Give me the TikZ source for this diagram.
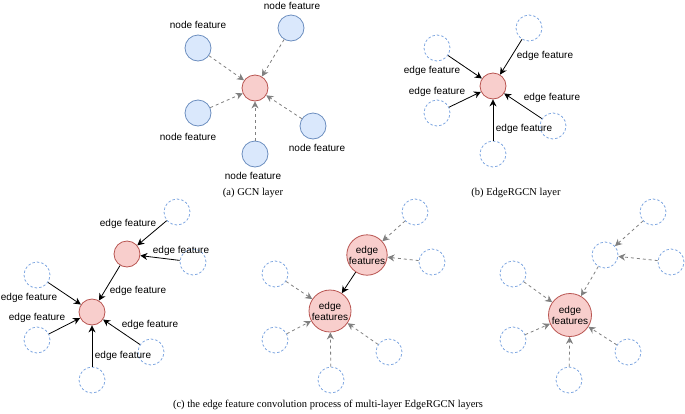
\documentclass[tikz,border=0pt]{standalone}
\usepackage{fontspec}
\setmainfont{Liberation Serif}
\setsansfont{Liberation Sans}
\usetikzlibrary{arrows.meta, positioning}
\definecolor{nodefill}{RGB}{218,232,252}
\definecolor{nodeline}{RGB}{108,142,191}
\definecolor{edgeline}{RGB}{126,166,224}
\definecolor{tgtfill}{RGB}{248,206,204}
\definecolor{tgtline}{RGB}{184,84,80}
\definecolor{msggray}{RGB}{128,128,128}

\begin{document}
\begin{tikzpicture}[x=1pt, y=-1pt, font=\sffamily\fontsize{10}{11}\selectfont,
    featnode/.style={circle, fill=nodefill, draw=nodeline, line width=0.8pt, minimum size=26pt, inner sep=0pt},
    edgenode/.style={circle, draw=edgeline, dashed, dash pattern=on 2.5pt off 2pt, line width=0.8pt, minimum size=26pt, inner sep=0pt},
    tgtnode/.style={circle, fill=tgtfill, draw=tgtline, line width=0.8pt, minimum size=26pt, inner sep=0pt, align=center},
    msgarrow/.style={-{Stealth[length=7pt, width=7pt]}, msggray, line width=0.8pt, dash pattern=on 3pt off 3pt},
    featarrow/.style={-{Stealth[length=7pt, width=7pt]}, black, line width=0.8pt},
    lbl/.style={inner sep=0pt},
    caption/.style={font=\rmfamily\fontsize{10.5}{12}\selectfont, inner sep=0pt}]
  \useasboundingbox (0,0) rectangle (685,413);

  % (a) GCN layer
  \node[tgtnode] (a0) at (255,88) {};
  \node[featnode] (a1) at (198,48) {};
  \node[featnode] (a2) at (291,28) {};
  \node[featnode] (a3) at (198,113) {};
  \node[featnode] (a4) at (255,154) {};
  \node[featnode] (a5) at (313,126) {};
  \node[lbl] (la1) at (198,25) {node feature};
  \node[lbl] (la2) at (292,6) {node feature};
  \node[lbl] (la3) at (188,137) {node feature};
  \node[lbl] (la4) at (253,176) {node feature};
  \node[lbl] (la5) at (317,148) {node feature};
  \draw[msgarrow] (a1) -- (a0);
  \draw[msgarrow] (a2) -- (a0);
  \draw[msgarrow] (a3) -- (a0);
  \draw[msgarrow] (a4) -- (a0);
  \draw[msgarrow] (a5) -- (a0);
  \node[caption] (capa) at (253,193) {(a) GCN layer};

  % (b) EdgeRGCN layer
  \node[tgtnode] (b0) at (493,86) {};
  \node[edgenode] (b1) at (437,48) {};
  \node[edgenode] (b2) at (529,28) {};
  \node[edgenode] (b3) at (437,113) {};
  \node[edgenode] (b4) at (493,154) {};
  \node[edgenode] (b5) at (553,126) {};
  \draw[featarrow] (b1) -- (b0);
  \draw[featarrow] (b2) -- (b0);
  \draw[featarrow] (b3) -- (b0);
  \draw[featarrow] (b4) -- (b0);
  \draw[featarrow] (b5) -- (b0);
  \node[lbl] (lb1) at (432,71) {edge feature};
  \node[lbl] (lb2) at (545,56) {edge feature};
  \node[lbl] (lb3) at (437,92) {edge feature};
  \node[lbl] (lb4) at (524,129) {edge feature};
  \node[lbl] (lb5) at (552,98) {edge feature};
  \node[caption] (capb) at (516,193) {(b) EdgeRGCN layer};

  % (c) left: two layers, edge features
  \node[tgtnode] (c0) at (92,312) {};
  \node[tgtnode] (c6) at (127,254) {};
  \node[edgenode] (c1) at (177,212) {};
  \node[edgenode] (c2) at (193,262) {};
  \node[edgenode] (c3) at (37,275) {};
  \node[edgenode] (c4) at (37,340) {};
  \node[edgenode] (c5) at (92,380) {};
  \node[edgenode] (c7) at (151,352) {};
  \draw[featarrow] (c1) -- (c6);
  \draw[featarrow] (c2) -- (c6);
  \draw[featarrow] (c6) -- (c0);
  \draw[featarrow] (c3) -- (c0);
  \draw[featarrow] (c4) -- (c0);
  \draw[featarrow] (c5) -- (c0);
  \draw[featarrow] (c7) -- (c0);
  \node[lbl] (lc1) at (128,224) {edge feature};
  \node[lbl] (lc2) at (181,251) {edge feature};
  \node[lbl] (lc6) at (138,291) {edge feature};
  \node[lbl] (lc3) at (29,298) {edge feature};
  \node[lbl] (lc4) at (37,318) {edge feature};
  \node[lbl] (lc7) at (150,325) {edge feature};
  \node[lbl] (lc5) at (123,356) {edge feature};

  % (c) middle: features gathered
  \node[tgtnode, minimum size=42pt] (d0) at (330,311) {edge\\features};
  \node[tgtnode, minimum size=33pt] (d6) at (367,255) {edge\\features};
  \node[edgenode] (d1) at (415,212) {};
  \node[edgenode] (d2) at (432,262) {};
  \node[edgenode] (d3) at (275,274) {};
  \node[edgenode] (d4) at (275,340) {};
  \node[edgenode] (d5) at (331,380) {};
  \node[edgenode] (d7) at (389,352) {};
  \draw[msgarrow] (d1) -- (d6);
  \draw[msgarrow] (d2) -- (d6);
  \draw[featarrow] (d6) -- (d0);
  \draw[msgarrow] (d3) -- (d0);
  \draw[msgarrow] (d4) -- (d0);
  \draw[msgarrow] (d5) -- (d0);
  \draw[msgarrow] (d7) -- (d0);

  % (c) right: one node
  \node[tgtnode, minimum size=43pt] (e0) at (570,315) {edge\\features};
  \node[edgenode] (e6) at (605,255) {};
  \node[edgenode] (e1) at (653,212) {};
  \node[edgenode] (e2) at (671,262) {};
  \node[edgenode] (e3) at (513,274) {};
  \node[edgenode] (e4) at (513,340) {};
  \node[edgenode] (e5) at (569,380) {};
  \node[edgenode] (e7) at (628,352) {};
  \draw[msgarrow] (e1) -- (e6);
  \draw[msgarrow] (e2) -- (e6);
  \draw[msgarrow] (e6) -- (e0);
  \draw[msgarrow] (e3) -- (e0);
  \draw[msgarrow] (e4) -- (e0);
  \draw[msgarrow] (e5) -- (e0);
  \draw[msgarrow] (e7) -- (e0);

  \node[caption] (capc) at (328,405) {(c) the edge feature convolution process of multi-layer EdgeRGCN layers};
\end{tikzpicture}
\end{document}
